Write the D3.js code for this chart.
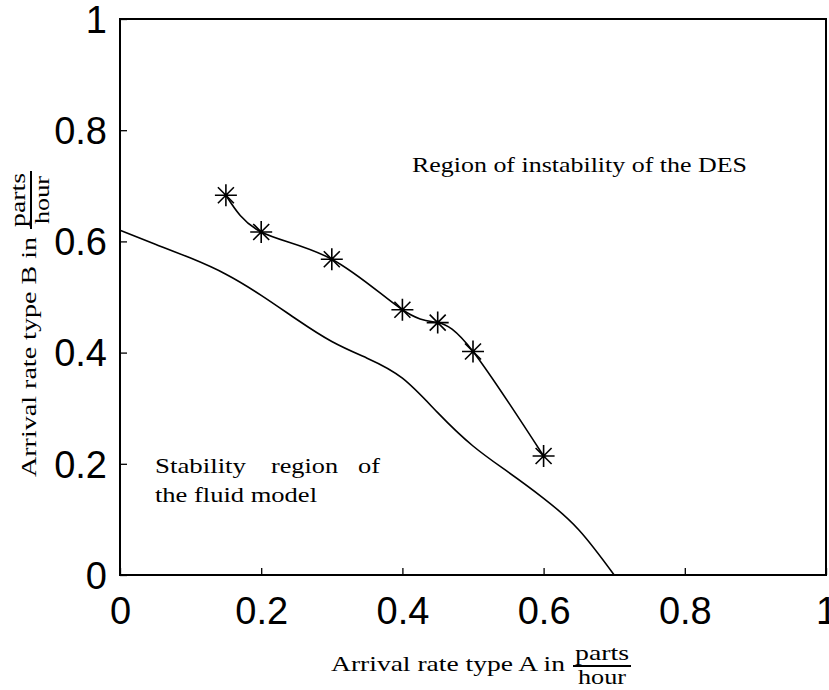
<!DOCTYPE html>
<html>
<head>
<meta charset="utf-8" />
<title>Stability regions</title>
<script src="https://cdn.jsdelivr.net/npm/d3@7"></script>
<style>
  body { margin: 0; background: #fff; }
</style>
</head>
<body>
<script>
// fluid model stability boundary
var fluidX = [0, 0.05, 0.1, 0.15, 0.2, 0.25, 0.3, 0.35, 0.4, 0.45, 0.5, 0.55, 0.6, 0.65, 0.7];
var fluidY = [0.62, 0.595, 0.570, 0.541, 0.503, 0.460, 0.420, 0.390, 0.354, 0.292, 0.232, 0.185, 0.138, 0.081, 0.0];

// DES simulation points
var desX = [0.15, 0.2, 0.3, 0.4, 0.45, 0.5, 0.6];
var desY = [0.683, 0.617, 0.568, 0.477, 0.454, 0.402, 0.214];

var xTicks = [0, 0.2, 0.4, 0.6, 0.8, 1];
var yTicks = [0, 0.2, 0.4, 0.6, 0.8, 1];

var width = 829, height = 690;
var mLeft = 120, mRight = 826, mTop = 19, mBottom = 575;

var svg = d3.select('body').append('svg').attr('width', width).attr('height', height);

var x = d3.scaleLinear().domain([0, 1]).range([mLeft, mRight]);
var y = d3.scaleLinear().domain([0, 1]).range([mBottom, mTop]);

var serif = 'Liberation Serif, DejaVu Serif, serif';
var sans = 'Liberation Sans, Arial, sans-serif';

// axes (ticks inside, big sans labels)
var xAxis = d3.axisBottom(x).tickValues(xTicks).tickSizeInner(-7).tickSizeOuter(0)
    .tickFormat(d3.format('~g'));
var yAxis = d3.axisLeft(y).tickValues(yTicks).tickSizeInner(-7).tickSizeOuter(0)
    .tickFormat(d3.format('~g'));

var gx = svg.append('g').attr('transform', 'translate(0,' + mBottom + ')').call(xAxis);
var gy = svg.append('g').attr('transform', 'translate(' + mLeft + ',0)').call(yAxis);
[gx, gy].forEach(function(g) {
    g.select('.domain').remove();
    g.selectAll('line').attr('stroke', '#000').attr('stroke-width', 1.3);
    g.selectAll('text').attr('font-family', sans).attr('font-size', '38px').attr('fill', '#000');
});
gx.selectAll('text').attr('dy', '0.71em').attr('y', 22);
gy.selectAll('text').attr('dy', '0.35em').attr('x', -13);

// frame
svg.append('rect').attr('x', mLeft).attr('y', mTop)
    .attr('width', mRight - mLeft).attr('height', mBottom - mTop)
    .attr('fill', 'none').attr('stroke', '#000').attr('stroke-width', 2);

var fluid = fluidX.map(function(d, i) { return [d, fluidY[i]]; });
var des = desX.map(function(d, i) { return [d, desY[i]]; });

var line = d3.line().x(function(d) { return x(d[0]); }).y(function(d) { return y(d[1]); })
    .curve(d3.curveNatural);

svg.append('path').attr('d', line(fluid)).attr('fill', 'none')
    .attr('stroke', '#000').attr('stroke-width', 1.6);
svg.append('path').attr('d', line(des)).attr('fill', 'none')
    .attr('stroke', '#000').attr('stroke-width', 1.6);

// star markers
var star = 'M-11,0L11,0M0,-11L0,11M-8,-8L8,8M-8,8L8,-8';
svg.selectAll('.star').data(des).enter().append('path')
    .attr('class', 'star')
    .attr('d', star)
    .attr('transform', function(d) { return 'translate(' + x(d[0]) + ',' + y(d[1]) + ')'; })
    .attr('stroke', '#000').attr('stroke-width', 1.6).attr('fill', 'none');

// annotations
svg.append('text').attr('x', 412).attr('y', 172)
    .attr('font-family', serif).attr('font-size', '22px')
    .attr('textLength', 335).attr('lengthAdjust', 'spacingAndGlyphs')
    .text('Region of instability of the DES');

var l1 = [['Stability', 155, 91], ['region', 271, 67], ['of', 358, 22]];
l1.forEach(function(w) {
    svg.append('text').attr('x', w[1]).attr('y', 473)
        .attr('font-family', serif).attr('font-size', '22px')
        .attr('textLength', w[2]).attr('lengthAdjust', 'spacingAndGlyphs')
        .text(w[0]);
});
svg.append('text').attr('x', 155).attr('y', 502)
    .attr('font-family', serif).attr('font-size', '22px')
    .attr('textLength', 162).attr('lengthAdjust', 'spacingAndGlyphs')
    .text('the fluid model');

// axis titles with fraction
function title(g, txt, len) {
    g.append('text').attr('x', 0).attr('y', 0)
        .attr('font-family', serif).attr('font-size', '21px')
        .attr('textLength', len).attr('lengthAdjust', 'spacingAndGlyphs')
        .text(txt);
    var fx = len + 8;
    g.append('line').attr('x1', fx).attr('x2', fx + 58).attr('y1', -5).attr('y2', -5)
        .attr('stroke', '#000').attr('stroke-width', 2);
    g.append('text').attr('x', fx + 29).attr('y', -11).attr('text-anchor', 'middle')
        .attr('font-family', serif).attr('font-size', '21px')
        .attr('textLength', 54).attr('lengthAdjust', 'spacingAndGlyphs').text('parts');
    g.append('text').attr('x', fx + 29).attr('y', 13).attr('text-anchor', 'middle')
        .attr('font-family', serif).attr('font-size', '21px')
        .attr('textLength', 48).attr('lengthAdjust', 'spacingAndGlyphs').text('hour');
}
title(svg.append('g').attr('transform', 'translate(331,671)'), 'Arrival rate type A in', 234);
title(svg.append('g').attr('transform', 'translate(36,477) rotate(-90)'), 'Arrival rate type B in', 240);
</script>
</body>
</html>
